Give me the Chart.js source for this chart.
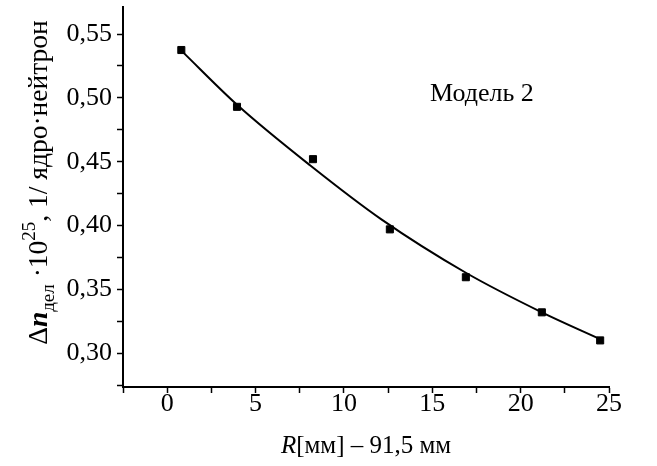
<!DOCTYPE html>
<html>
<head>
<meta charset="utf-8">
<script src="https://cdn.jsdelivr.net/npm/chart.js@4"></script>
<style>
  html, body { margin: 0; padding: 0; background: #fff; }
  #wrap { width: 657px; height: 466px; position: relative; }
</style>
</head>
<body>
<div id="wrap"><canvas id="c" width="657" height="466"></canvas></div>
<script>
// Measured points
const pointX = [0.8, 3.95, 8.25, 12.6, 16.9, 21.2, 24.5];
const pointY = [0.5375, 0.493, 0.452, 0.397, 0.3595, 0.332, 0.310];
// Fitted curve
const curveX = [0.8, 4.0, 8.1, 12.1, 16.9, 21.2, 24.5];
const curveY = [0.537, 0.494, 0.447, 0.405, 0.363, 0.332, 0.311];
// Axis ticks
const xTickValues = [-2.5, 0, 2.5, 5, 7.5, 10, 12.5, 15, 17.5, 20, 22.5, 25];
const xTickLabels = ['', '0', '', '5', '', '10', '', '15', '', '20', '', '25'];
const yTickValues = [0.275, 0.30, 0.325, 0.35, 0.375, 0.40, 0.425, 0.45, 0.475, 0.50, 0.525, 0.55];
const yTickLabels = ['', '0,30', '', '0,35', '', '0,40', '', '0,45', '', '0,50', '', '0,55'];
const modelLabel = 'Модель 2';

const FONT = "'Liberation Serif', 'Times New Roman', serif";

const titlePlugin = {
  id: 'titles',
  afterDraw(chart) {
    const ctx = chart.ctx;
    const area = chart.chartArea;
    ctx.save();
    ctx.fillStyle = '#000';
    ctx.textBaseline = 'alphabetic';
    ctx.textAlign = 'left';
    // Model label
    ctx.font = "26px " + FONT;
    ctx.fillText(modelLabel, 430, 101);

    // X title: R[мм] – 91,5 мм
    const xParts = [
      { t: 'R', f: 'italic 25px ' + FONT, dy: 0 },
      { t: '[мм] – 91,5 мм', f: '25px ' + FONT, dy: 0 }
    ];
    let tw = 0;
    xParts.forEach(p => { ctx.font = p.f; p.w = ctx.measureText(p.t).width; tw += p.w; });
    let cx = (area.left + area.right) / 2 - tw / 2;
    xParts.forEach(p => { ctx.font = p.f; ctx.fillText(p.t, cx, 453 + p.dy); cx += p.w; });

    // Y title: Δn_дел ·10^25, 1/ ядро·нейтрон
    const yParts = [
      { t: 'Δ', f: '27.5px ' + FONT, dy: 0 },
      { t: 'n', f: 'italic bold 27.5px ' + FONT, dy: 0 },
      { t: 'дел', f: '19px ' + FONT, dy: 6.5 },
      { t: ' ·10', f: '27.5px ' + FONT, dy: 0 },
      { t: '25', f: '19px ' + FONT, dy: -12.5 },
      { t: ', 1/ ядро·нейтрон', f: '27.5px ' + FONT, dy: 0 }
    ];
    tw = 0;
    yParts.forEach(p => { ctx.font = p.f; p.w = ctx.measureText(p.t).width; tw += p.w; });
    ctx.translate(47, 182.5);
    ctx.rotate(-Math.PI / 2);
    let px = -tw / 2;
    yParts.forEach(p => { ctx.font = p.f; ctx.fillText(p.t, px, p.dy); px += p.w; });
    ctx.restore();
  }
};

const axisCommon = {
  border: { display: true, color: '#000', width: 2 },
  grid: { display: true, drawOnChartArea: false, drawTicks: true, tickLength: 6, tickColor: '#000', tickWidth: 1.5 },
};

new Chart(document.getElementById('c'), {
  type: 'scatter',
  data: {
    datasets: [
      {
        label: 'fit',
        data: curveX.map((x, i) => ({ x, y: curveY[i] })),
        showLine: true,
        borderColor: '#000',
        borderWidth: 2,
        pointRadius: 0,
        cubicInterpolationMode: 'monotone',
        fill: false,
        order: 2
      },
      {
        label: 'points',
        data: pointX.map((x, i) => ({ x, y: pointY[i] })),
        showLine: false,
        pointStyle: 'rect',
        pointRadius: 5,
        pointBorderWidth: 1,
        pointBackgroundColor: '#000',
        pointBorderColor: '#000',
        order: 1
      }
    ]
  },
  options: {
    responsive: false,
    animation: false,
    events: [],
    layout: { padding: { left: 0, right: 48, top: 7, bottom: 0 } },
    plugins: { legend: { display: false }, tooltip: { enabled: false }, title: { display: false } },
    scales: {
      x: {
        type: 'linear',
        min: -2.5,
        max: 25,
        ...axisCommon,
        ticks: {
          autoSkip: false,
          maxRotation: 0,
          padding: -4,
          color: '#000',
          font: { family: FONT, size: 26 },
          callback: (v) => { const i = xTickValues.findIndex(t => Math.abs(t - v) < 1e-6); return i >= 0 ? xTickLabels[i] : ''; }
        },
        afterBuildTicks: (s) => { s.ticks = xTickValues.map(v => ({ value: v })); },
        afterFit: (s) => { s.height = 79; s.paddingLeft = 0; s.paddingRight = 0; }
      },
      y: {
        type: 'linear',
        min: 0.2735,
        max: 0.5712,
        ...axisCommon,
        ticks: {
          autoSkip: false,
          padding: 5,
          color: '#000',
          font: { family: FONT, size: 26 },
          callback: (v) => { const i = yTickValues.findIndex(t => Math.abs(t - v) < 1e-6); return i >= 0 ? yTickLabels[i] : ''; }
        },
        afterBuildTicks: (s) => { s.ticks = yTickValues.map(v => ({ value: v })); },
        afterFit: (s) => { s.width = 123; s.paddingTop = 0; s.paddingBottom = 0; }
      }
    }
  },
  plugins: [titlePlugin]
});
</script>
</body>
</html>
